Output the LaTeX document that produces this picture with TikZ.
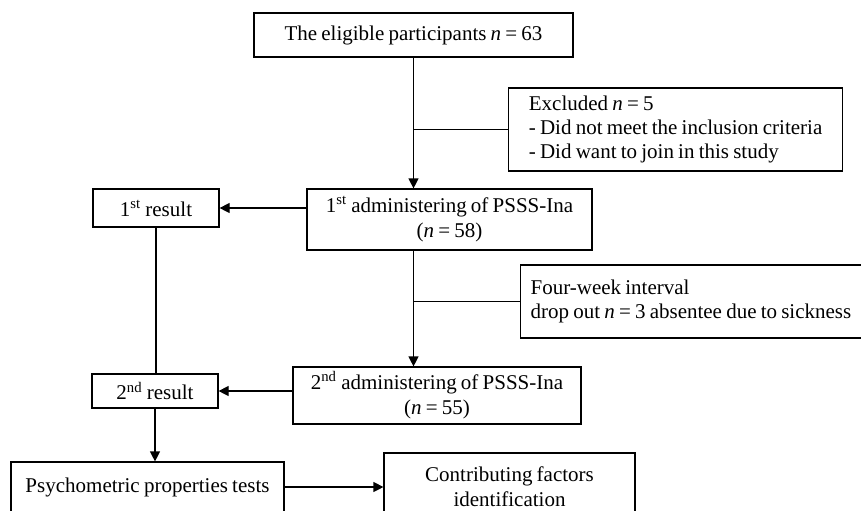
\documentclass[tikz,border=0pt]{standalone}
\usepackage{fontspec}
\setmainfont[WordSpace=0.8]{Liberation Serif}
\usepackage{tikz}
\usetikzlibrary{positioning, arrows.meta, calc}

\begin{document}
\begin{tikzpicture}[x=0.5pt, y=-0.5pt, line width=0.6pt,
    box/.style={draw, inner sep=0pt, align=center, font=\fontsize{10.5}{12.5}\selectfont},
    notebox/.style={draw, anchor=west, inner ysep=0pt, align=left, font=\fontsize{10.5}{11.8}\selectfont},
    arr/.style={-{Triangle[length=5pt, width=5pt]}}]
    \clip (0,0) rectangle (861,510);

    % Main column
    \node[box, minimum width=159.5pt, minimum height=22pt] (elig) at (413.5,35) {The eligible participants \textit{n} = 63};
    \node[notebox, inner xsep=6pt, minimum width=167pt, minimum height=41.5pt] (excl) at (508,129.5) {Excluded \textit{n} = 5\\- Did not meet the inclusion criteria\\- Did want to join in this study};
    \node[notebox, inner xsep=5pt, minimum height=36.5pt] (four) at (520,301.5) {Four-week interval\\drop out \textit{n} = 3 absentee due to sickness\hspace{8pt}};
    \node[box, minimum width=142.5pt, minimum height=30.5pt] (adm1) at (449.5,219.5) {1\textsuperscript{st} administering of PSSS-Ina\\(\textit{n} = 58)};
    \node[box, minimum width=144pt, minimum height=28.5pt] (adm2) at (437,395.5) {2\textsuperscript{nd} administering of PSSS-Ina\\(\textit{n} = 55)};

    % Results column
    \node[box, minimum width=63pt, minimum height=19pt] (res1) at (156,208) {1\textsuperscript{st} result};
    \node[box, minimum width=63pt, minimum height=17pt] (res2) at (155,391) {2\textsuperscript{nd} result};

    % Bottom row
    \node[box, minimum width=136.5pt, minimum height=25pt] (psych) at (147.5,487) {Psychometric properties tests};
    \node[box, minimum width=125.5pt, minimum height=33.5pt] (contr) at (509.5,486.5) {Contributing factors\\identification};

    % Connectors
    \draw[arr] (elig.south) -- (elig.south |- adm1.north);
    \draw (elig.south |- excl.west) -- (excl.west);
    \draw[arr] (adm1.west |- res1.east) -- (res1.east);
    \draw[arr] (adm1.south -| elig.south) -- (adm2.north -| elig.south);
    \draw (four.west -| elig.south) -- (four.west);
    \draw[arr] (adm2.west |- res2.east) -- (res2.east);
    \draw (res1.south) -- (res1.south |- res2.north);
    \draw[arr] (res2.south) -- (res2.south |- psych.north);
    \draw[arr] (psych.east) -- (psych.east -| contr.west);
\end{tikzpicture}
\end{document}
